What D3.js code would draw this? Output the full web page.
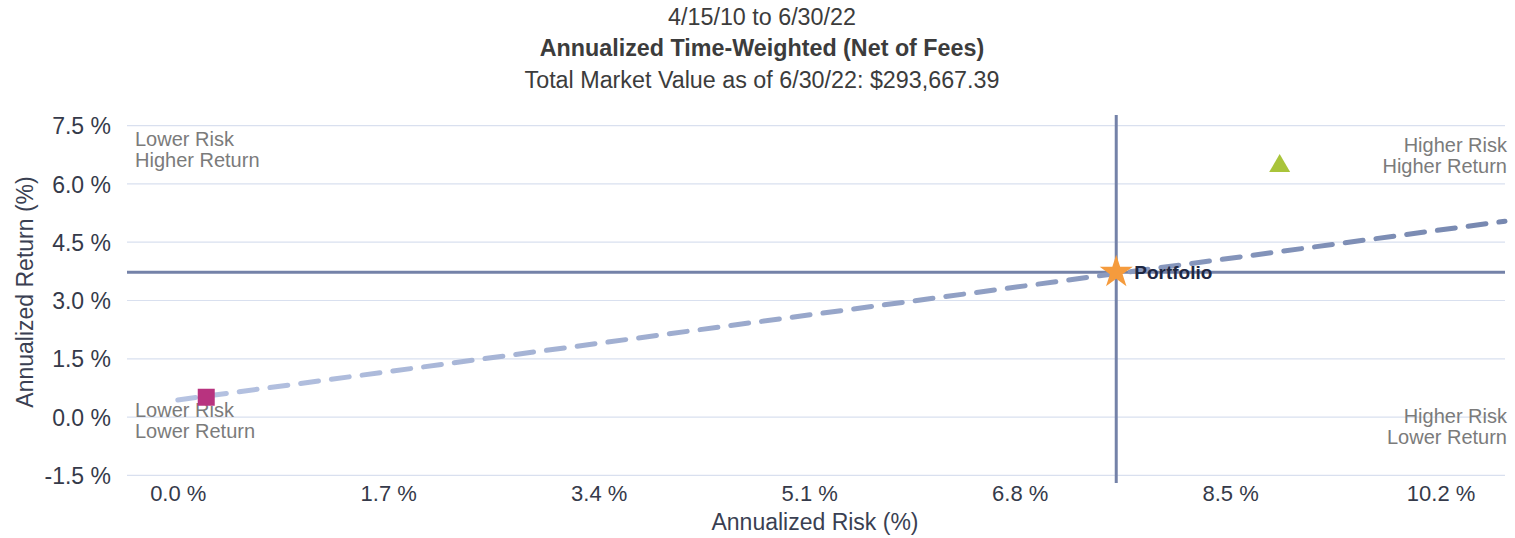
<!DOCTYPE html>
<html>
<head>
<meta charset="utf-8">
<script src="https://cdn.jsdelivr.net/npm/d3@7"></script>
<style>
  body { margin: 0; background: #fff; }
  text { font-family: "Liberation Sans", Arial, sans-serif; }
</style>
</head>
<body>
<div id="chart"></div>
<script>
// chart data
var titleLines = ["4/15/10 to 6/30/22", "Annualized Time-Weighted (Net of Fees)", "Total Market Value as of 6/30/22: $293,667.39"];
var yTicks = [-1.5, 0, 1.5, 3, 4.5, 6, 7.5];
var xTicks = [0, 1.7, 3.4, 5.1, 6.8, 8.5, 10.2];
var pointLabels = ["Portfolio", "", ""];
var pointShapes = ["star", "square", "triangle"];
var pointRisk = [7.58, 0.23, 8.90];
var pointReturn = [3.73, 0.51, 6.46];
var lineRisk = [0, 10.72];
var lineReturn = [0.44, 5.04];
var quadrantText = [["Lower Risk", "Higher Return"], ["Higher Risk", "Higher Return"], ["Lower Risk", "Lower Return"], ["Higher Risk", "Lower Return"]];

var W = 1515, H = 538;
var svg = d3.select("#chart").append("svg").attr("width", W).attr("height", H);

var x = d3.scaleLinear().domain([-0.41, 10.72]).range([127, 1505]);
var y = d3.scaleLinear().domain([-1.8, 7.8]).range([487, 114]);

var pct = function(d){ return d3.format(".1f")(d).replace("\u2212", "-") + " %"; };

// titles
svg.selectAll("text.title").data(titleLines).enter().append("text")
  .attr("x", 762).attr("y", function(d, i){ return [25, 56, 88][i]; })
  .attr("text-anchor", "middle")
  .attr("font-size", 23.3)
  .attr("font-weight", function(d, i){ return i == 1 ? "bold" : "normal"; })
  .attr("fill", "#3c3c3c")
  .text(function(d){ return d; });

// horizontal gridlines
svg.append("g").selectAll("line").data(yTicks).enter().append("line")
  .attr("x1", 127).attr("x2", 1505)
  .attr("y1", function(d){ return y(d); }).attr("y2", function(d){ return y(d); })
  .attr("stroke", "#d9e0ef").attr("stroke-width", 1.2);

// y axis labels
var yAxis = d3.axisLeft(y).tickValues(yTicks).tickSize(0).tickPadding(0).tickFormat(pct);
var gy = svg.append("g").attr("transform", "translate(111,0)").call(yAxis);
gy.select(".domain").remove();
gy.attr("font-size", null).attr("font-family", null);
gy.selectAll("text").attr("font-size", 23).attr("fill", "#353a4a").attr("dy", "0.35em");

// x axis labels
var xAxis = d3.axisBottom(x).tickValues(xTicks).tickSize(0).tickPadding(0).tickFormat(pct);
var gx = svg.append("g").attr("transform", "translate(0,492)").call(xAxis);
gx.select(".domain").remove();
gx.attr("font-size", null).attr("font-family", null);
gx.selectAll("text").attr("font-size", 22).attr("fill", "#353a4a").attr("dy", "0.4em");

// axis titles
svg.append("text").attr("x", 815).attr("y", 530).attr("text-anchor", "middle")
  .attr("font-size", 23).attr("fill", "#3a3f52").text("Annualized Risk (%)");
svg.append("text").attr("transform", "translate(33,292) rotate(-90)").attr("text-anchor", "middle")
  .attr("font-size", 23).attr("fill", "#3a3f52").text("Annualized Return (%)");

// quadrant labels
var qPos = [
  {x: 135, y: 146, anchor: "start"},
  {x: 1507, y: 152, anchor: "end"},
  {x: 135, y: 417, anchor: "start"},
  {x: 1507, y: 423, anchor: "end"}
];
quadrantText.forEach(function(lines, i){
  var t = svg.append("text").attr("font-size", 20).attr("fill", "#7b7b7b")
    .attr("text-anchor", qPos[i].anchor);
  lines.forEach(function(l, j){
    t.append("tspan").attr("x", qPos[i].x).attr("y", qPos[i].y + j * 21).text(l);
  });
});

// crosshair through portfolio
svg.append("line")
  .attr("x1", 127).attr("x2", 1505)
  .attr("y1", y(pointReturn[0])).attr("y2", y(pointReturn[0]))
  .attr("stroke", "#7482a8").attr("stroke-width", 3);
svg.append("line")
  .attr("x1", x(pointRisk[0])).attr("x2", x(pointRisk[0]))
  .attr("y1", 115).attr("y2", 483)
  .attr("stroke", "#7482a8").attr("stroke-width", 3);

// dashed line
var defs = svg.append("defs");
var grad = defs.append("linearGradient").attr("id", "dashGrad")
  .attr("gradientUnits", "userSpaceOnUse")
  .attr("x1", x(lineRisk[0])).attr("x2", x(lineRisk[1])).attr("y1", 0).attr("y2", 0);
grad.append("stop").attr("offset", "0%").attr("stop-color", "#b6c3e2");
grad.append("stop").attr("offset", "100%").attr("stop-color", "#7788b0");

var lineData = lineRisk.map(function(r, i){ return [r, lineReturn[i]]; });
svg.append("path").datum(lineData)
  .attr("d", d3.line().x(function(d){ return x(d[0]); }).y(function(d){ return y(d[1]); }))
  .attr("fill", "none")
  .attr("stroke", "url(#dashGrad)")
  .attr("stroke-width", 5)
  .attr("stroke-linecap", "round")
  .attr("stroke-dasharray", "18,13");

// points
var shapeMap = { star: d3.symbolStar, square: d3.symbolSquare, triangle: d3.symbolTriangle };
var sizeMap = { star: 340, square: 289, triangle: 190 };
var colorMap = { star: "#f59b3d", square: "#b8337f", triangle: "#a9c43a" };
svg.selectAll("path.pt").data(pointShapes).enter().append("path")
  .attr("class", "pt")
  .attr("transform", function(d, i){ return "translate(" + x(pointRisk[i]) + "," + y(pointReturn[i]) + ")"; })
  .attr("d", function(d){ return d3.symbol().type(shapeMap[d]).size(sizeMap[d])(); })
  .attr("fill", function(d){ return colorMap[d]; });

// point labels
svg.selectAll("text.pl").data(pointLabels).enter().append("text")
  .attr("x", function(d, i){ return x(pointRisk[i]) + 18; })
  .attr("y", function(d, i){ return y(pointReturn[i]) + 7; })
  .attr("font-size", 19).attr("font-weight", "bold").attr("fill", "#1e2742")
  .text(function(d){ return d; });
</script>
</body>
</html>
